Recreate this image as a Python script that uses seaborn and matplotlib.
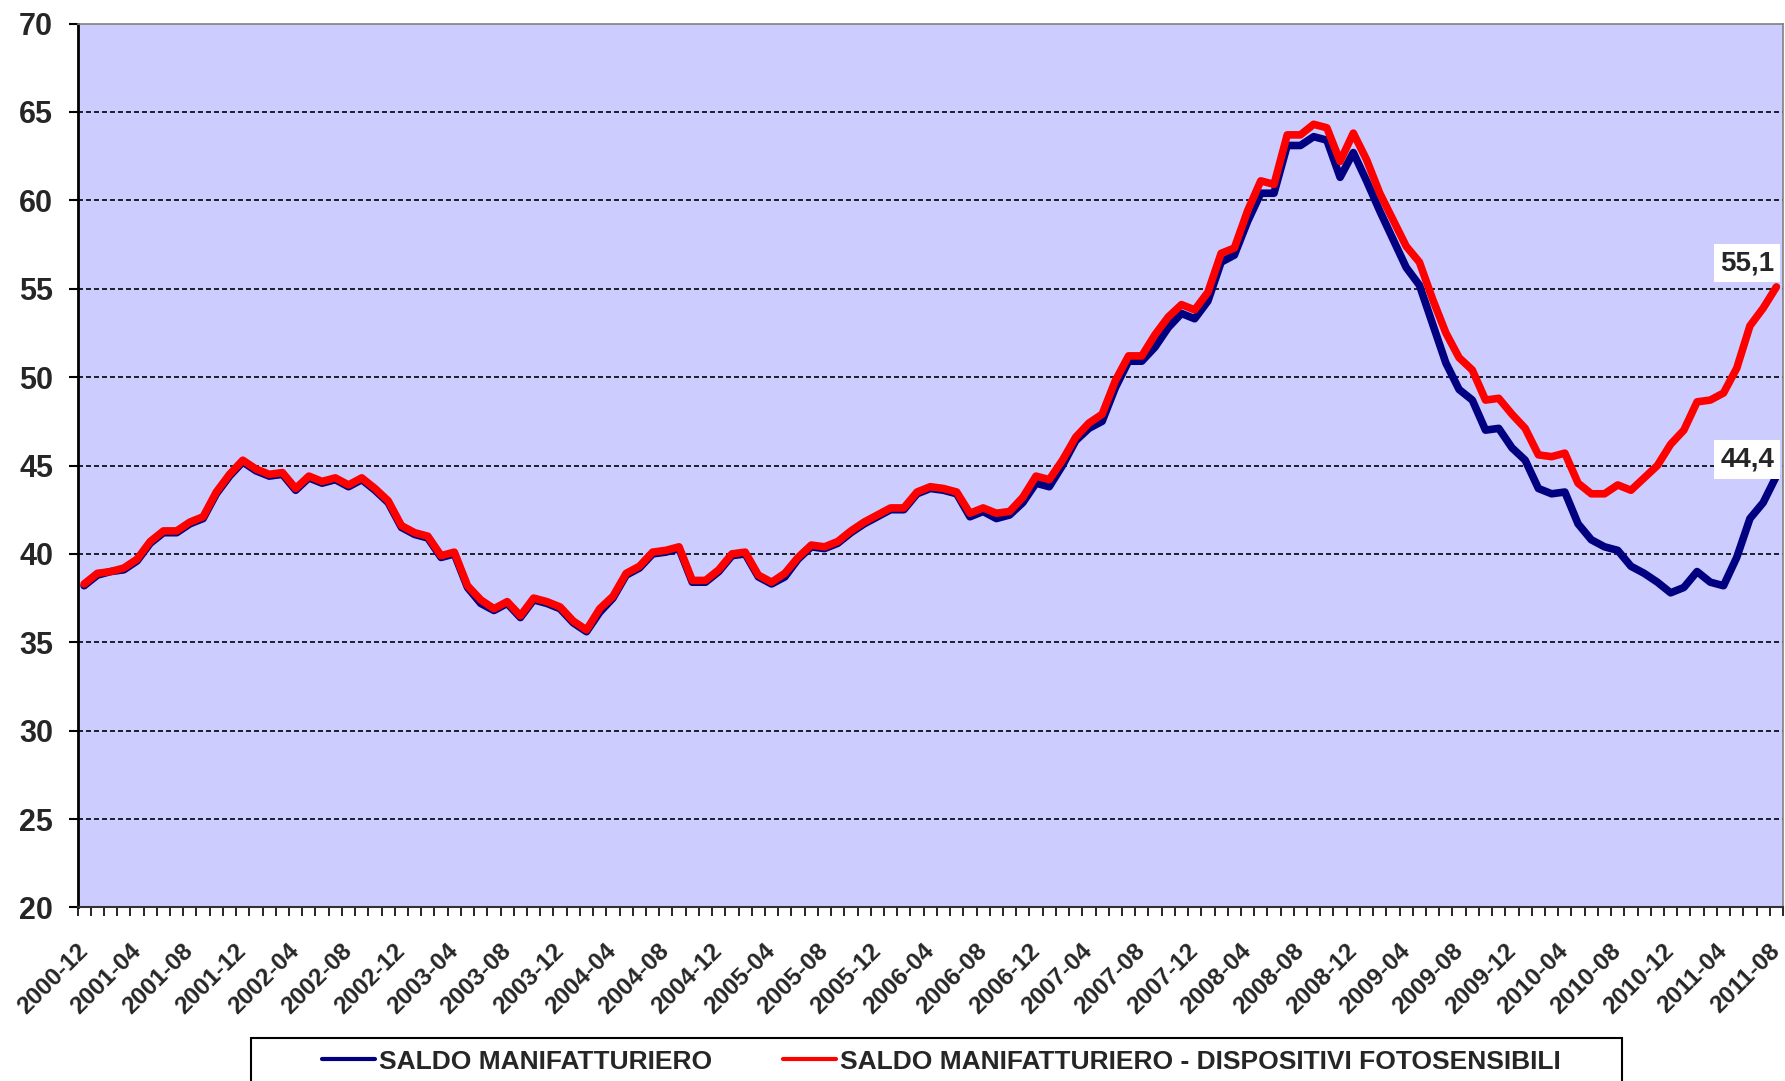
import matplotlib
import matplotlib.pyplot as plt
import numpy as np
import pandas as pd
import seaborn as sns
from matplotlib.lines import Line2D
from matplotlib.patches import Rectangle

matplotlib.use("Agg")

# ── Data ──────────────────────────────────────────────────────────────────────

MONTHS = pd.period_range("2000-12", "2011-08", freq="M").strftime("%Y-%m").tolist()

# SALDO MANIFATTURIERO (blue)
saldo_manifatturiero = [
    38.2, 38.8, 39.0, 39.1, 39.6, 40.6, 41.2, 41.2, 41.7, 42.0,
    43.4, 44.4, 45.2, 44.7, 44.4, 44.5, 43.6, 44.3, 44.0, 44.2,
    43.8, 44.2, 43.6, 42.9, 41.5, 41.1, 40.9, 39.8, 40.0, 38.1,
    37.2, 36.8, 37.2, 36.4, 37.4, 37.2, 36.9, 36.1, 35.6, 36.7,
    37.5, 38.8, 39.2, 40.0, 40.1, 40.3, 38.4, 38.4, 39.0, 39.9,
    40.0, 38.7, 38.3, 38.7, 39.7, 40.4, 40.3, 40.6, 41.2, 41.7,
    42.1, 42.5, 42.5, 43.4, 43.7, 43.6, 43.4, 42.1, 42.4, 42.0,
    42.2, 42.9, 44.0, 43.8, 45.0, 46.4, 47.1, 47.5, 49.4, 50.9,
    50.9, 51.7, 52.8, 53.6, 53.3, 54.3, 56.5, 56.9, 58.8, 60.4,
    60.4, 63.1, 63.1, 63.6, 63.4, 61.3, 62.7, 61.1, 59.4, 57.8,
    56.2, 55.2, 53.0, 50.8, 49.3, 48.7, 47.0, 47.1, 46.0, 45.3,
    43.7, 43.4, 43.5, 41.7, 40.8, 40.4, 40.2, 39.3, 38.9, 38.4,
    37.8, 38.1, 39.0, 38.4, 38.2, 39.8, 42.0, 42.9, 44.4,
]

# SALDO MANIFATTURIERO - DISPOSITIVI FOTOSENSIBILI (red)
saldo_fotosensibili = [
    38.3, 38.9, 39.0, 39.2, 39.7, 40.7, 41.3, 41.3, 41.8, 42.1,
    43.5, 44.5, 45.3, 44.8, 44.5, 44.6, 43.7, 44.4, 44.1, 44.3,
    43.9, 44.3, 43.7, 43.0, 41.6, 41.2, 41.0, 39.9, 40.1, 38.2,
    37.4, 36.9, 37.3, 36.5, 37.5, 37.3, 37.0, 36.2, 35.7, 36.9,
    37.6, 38.9, 39.3, 40.1, 40.2, 40.4, 38.5, 38.5, 39.1, 40.0,
    40.1, 38.8, 38.4, 38.9, 39.8, 40.5, 40.4, 40.7, 41.3, 41.8,
    42.2, 42.6, 42.6, 43.5, 43.8, 43.7, 43.5, 42.3, 42.6, 42.3,
    42.4, 43.2, 44.4, 44.2, 45.3, 46.6, 47.4, 47.9, 49.8, 51.2,
    51.2, 52.4, 53.4, 54.1, 53.8, 54.8, 57.0, 57.3, 59.4, 61.1,
    60.9, 63.7, 63.7, 64.3, 64.1, 62.2, 63.8, 62.3, 60.4, 58.9,
    57.4, 56.5, 54.4, 52.5, 51.1, 50.4, 48.7, 48.8, 47.9, 47.1,
    45.6, 45.5, 45.7, 44.0, 43.4, 43.4, 43.9, 43.6, 44.3, 45.0,
    46.2, 47.0, 48.6, 48.7, 49.1, 50.5, 52.9, 53.9, 55.1,
]

SERIES = ["SALDO MANIFATTURIERO", "SALDO MANIFATTURIERO - DISPOSITIVI FOTOSENSIBILI"]
COLORS = {SERIES[0]: "#000080", SERIES[1]: "#FF0000"}
Y_TICKS = [20, 25, 30, 35, 40, 45, 50, 55, 60, 65, 70]

# ── Style ─────────────────────────────────────────────────────────────────────

sns.set_theme(style="white")
plt.rcParams["font.family"] = ["Liberation Sans", "DejaVu Sans"]
plt.rcParams["font.weight"] = "bold"

df = pd.concat([
    pd.DataFrame({"pos": np.arange(len(MONTHS)), "month": MONTHS,
                  "value": saldo_manifatturiero, "serie": SERIES[0]}),
    pd.DataFrame({"pos": np.arange(len(MONTHS)), "month": MONTHS,
                  "value": saldo_fotosensibili, "serie": SERIES[1]}),
], ignore_index=True)

fig = plt.figure(figsize=(17.85, 10.81), dpi=100)
ax = fig.add_axes([0.04342, 0.16050, 0.95546, 0.81776])
ax.set_facecolor("#CCCCFF")

sns.lineplot(data=df, x="pos", y="value", hue="serie", hue_order=SERIES,
             palette=COLORS, linewidth=5.5, legend=False, sort=False, ax=ax)

# horizontal dashed grid
for y in Y_TICKS[1:-1]:
    ax.axhline(y, color="black", linewidth=1.2, linestyle=(0, (3.0, 1.8)), zorder=1)

ax.set_xlim(-0.5, len(MONTHS) - 0.5)
ax.set_ylim(Y_TICKS[0], Y_TICKS[-1])
ax.set_xlabel("")
ax.set_ylabel("")

ax.set_yticks(Y_TICKS)
ax.set_yticklabels([str(v) for v in Y_TICKS], fontsize=22, fontweight="bold")
ax.tick_params(axis="y", direction="out", length=6.5, width=1.5, color="black", pad=11, left=True)

ax.set_xticks(np.arange(0, len(MONTHS), 4))
ax.set_xticklabels(MONTHS[::4], rotation=45, ha="right", va="center",
                   rotation_mode="anchor", fontsize=17.5, fontweight="bold")
ax.set_xticks(np.arange(-0.5, len(MONTHS), 1), minor=True)
ax.tick_params(axis="x", which="major", length=0, pad=29)
ax.tick_params(axis="x", which="minor", direction="out", length=6.5, width=1.2,
               color="black", bottom=True)

ax.spines["left"].set_color("black")
ax.spines["left"].set_linewidth(2)
ax.spines["bottom"].set_color("#333333")
ax.spines["bottom"].set_linewidth(1.5)
for side in ["top", "right"]:
    ax.spines[side].set_color("#808080")
    ax.spines[side].set_linewidth(1.2)

# last-value labels
last = len(MONTHS) - 1
for vals, dy in [(saldo_fotosensibili, 17), (saldo_manifatturiero, 12)]:
    ax.annotate(f"{vals[-1]:.1f}".replace(".", ","), xy=(last, vals[-1]),
                xytext=(-21, dy), textcoords="offset points",
                ha="center", va="center", fontsize=20, fontweight="bold",
                bbox=dict(boxstyle="square,pad=0.22", facecolor="white", edgecolor="none"),
                zorder=5)

# legend (frame drawn separately, it runs off the bottom of the image)
handles = [Line2D([], [], color=COLORS[s], linewidth=3) for s in SERIES]
fig.legend(handles, SERIES, loc="center", bbox_to_anchor=(0.5275, 0.018), ncol=2,
           frameon=False, handlelength=2.0, handletextpad=0.15,
           columnspacing=2.7, prop={"weight": "bold", "size": 19})
fig.patches.append(Rectangle((0.1405, -0.05), 0.768, 0.0898, transform=fig.transFigure,
                             facecolor="white", edgecolor="black", linewidth=1.5, zorder=-1))

fig.savefig("out.png", dpi=100)
plt.close(fig)
